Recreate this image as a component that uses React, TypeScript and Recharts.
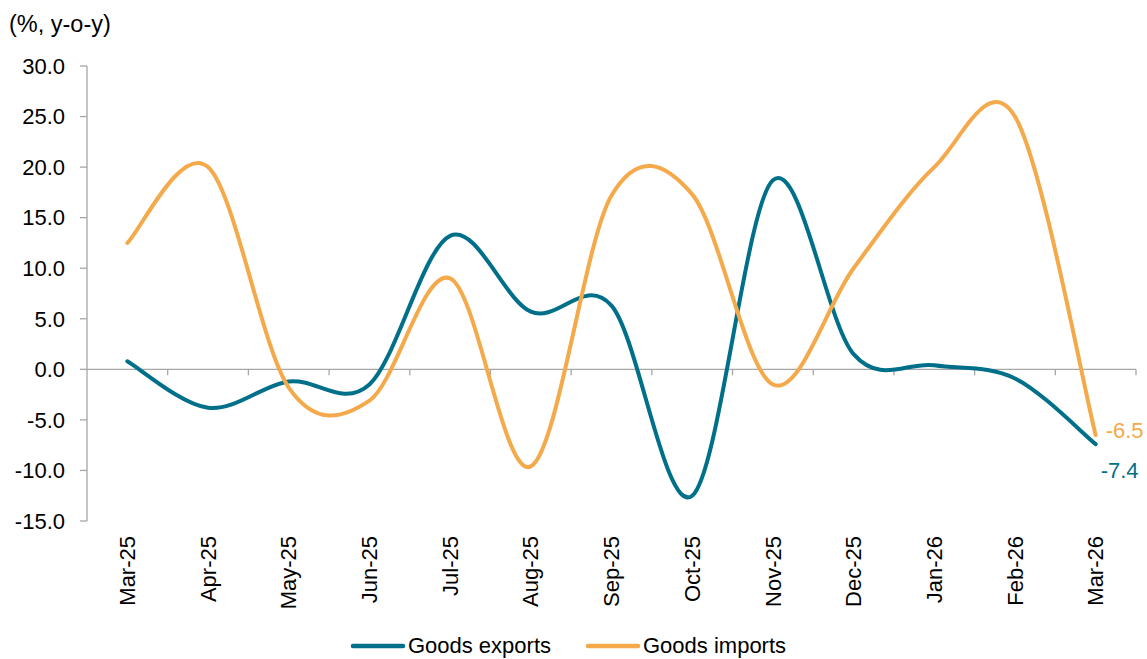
import { LineChart, Line, XAxis, YAxis, ReferenceLine, Legend, LabelList } from 'recharts'

const months = ['Mar-25', 'Apr-25', 'May-25', 'Jun-25', 'Jul-25', 'Aug-25', 'Sep-25', 'Oct-25', 'Nov-25', 'Dec-25', 'Jan-26', 'Feb-26', 'Mar-26']
const goodsExports = [0.8, -3.8, -1.2, -1.5, 13.2, 5.7, 6.3, -12.5, 18.7, 1.5, 0.4, -0.9, -7.4]
const goodsImports = [12.5, 20.0, -1.8, -3.1, 9.0, -9.6, 17.2, 17.3, -1.5, 10.0, 20.0, 25.0, -6.5]
const yTicks = [-15, -10, -5, 0, 5, 10, 15, 20, 25, 30]

const TEAL = '#00708a'
const ORANGE = '#f4a94b'
const GREY = '#a6a6a6'
const FONT = '"Liberation Sans", Arial, sans-serif'

const data = months.map((m, i) => ({ idx: i, month: m, exp: goodsExports[i], imp: goodsImports[i] }))

// excel-style smoothed line (catmull-rom through the points)
function excelSmooth(context: any) {
  let pts: number[][] = []
  return {
    areaStart() {},
    areaEnd() {},
    lineStart() { pts = [] },
    point(x: number, y: number) { pts.push([+x, +y]) },
    lineEnd() {
      const n = pts.length
      if (!n) return
      context.moveTo(pts[0][0], pts[0][1])
      for (let i = 0; i < n - 1; i++) {
        const p0 = pts[Math.max(i - 1, 0)]
        const p1 = pts[i]
        const p2 = pts[i + 1]
        const p3 = pts[Math.min(i + 2, n - 1)]
        context.bezierCurveTo(
          p1[0] + (p2[0] - p0[0]) / 6, p1[1] + (p2[1] - p0[1]) / 6,
          p2[0] - (p3[0] - p1[0]) / 6, p2[1] - (p3[1] - p1[1]) / 6,
          p2[0], p2[1],
        )
      }
    },
  }
}

function ZeroAxis(props: any) {
  const left = Math.min(props.x1, props.x2)
  const right = Math.max(props.x1, props.x2)
  const y = props.y1
  const step = (right - left) / months.length
  return (
    <g>
      <line x1={left} x2={right} y1={y} y2={y} stroke={GREY} strokeWidth={1.3} />
      {months.map((_, i) => (
        <line key={i} x1={left + step * (i + 1)} x2={left + step * (i + 1)} y1={y} y2={y + 6} stroke={GREY} strokeWidth={1.3} />
      ))}
    </g>
  )
}

function MonthTick(props: any) {
  const { x, y, payload } = props
  return (
    <text x={x} y={y} dy="0.35em" textAnchor="end" transform={`rotate(-90, ${x}, ${y})`} fill="#000" fontSize={22} fontFamily={FONT}>
      {months[payload.value]}
    </text>
  )
}

function endLabel(color: string, dx: number, dy: number) {
  return (props: any) => {
    const { x, y, index, value } = props
    if (index !== months.length - 1) return null
    return (
      <text x={x + dx} y={y + dy} dy="0.35em" fill={color} fontSize={22} fontFamily={FONT}>
        {Number(value).toFixed(1)}
      </text>
    )
  }
}

function LegendContent(props: any) {
  const items = props.payload || []
  return (
    <div style={{ display: 'flex', justifyContent: 'center', gap: 34, fontFamily: FONT, fontSize: 22, lineHeight: '26px', height: 26 }}>
      {items.map((it: any) => (
        <div key={it.value} style={{ display: 'flex', alignItems: 'center' }}>
          <svg width={56} height={10}>
            <line x1={3} x2={53} y1={5} y2={5} stroke={it.color} strokeWidth={4.5} strokeLinecap="round" />
          </svg>
          <span style={{ marginLeft: 2, color: '#000' }}>{it.value}</span>
        </div>
      ))}
    </div>
  )
}

export default function App() {
  return (
    <div style={{ position: 'absolute', left: 0, top: 0, width: 1147, height: 659, background: '#fff' }}>
      <div style={{ position: 'absolute', left: 9, top: 9, fontFamily: FONT, fontSize: 23.5, lineHeight: '30px', color: '#000' }}>
        (%, y-o-y)
      </div>
      <LineChart width={1147} height={659} data={data} margin={{ top: 66, right: 11, left: 0, bottom: 0 }}>
        <XAxis
          dataKey="idx"
          type="number"
          domain={[-0.5, 12.5]}
          ticks={months.map((_, i) => i)}
          interval={0}
          axisLine={false}
          tickLine={false}
          tickSize={0}
          tickMargin={15}
          height={112}
          tick={<MonthTick />}
        />
        <YAxis
          domain={[-15, 30]}
          ticks={yTicks}
          width={87}
          axisLine={{ stroke: GREY, strokeWidth: 1.3 }}
          tickLine={{ stroke: GREY, strokeWidth: 1.3 }}
          tickSize={7}
          tickMargin={15}
          tickFormatter={(v: number) => v.toFixed(1)}
          tick={{ fill: '#000', fontSize: 22, fontFamily: FONT }}
        />
        <ReferenceLine y={0} shape={<ZeroAxis />} />
        <Legend verticalAlign="bottom" content={<LegendContent />} />
        <Line
          dataKey="exp"
          name="Goods exports"
          stroke={TEAL}
          strokeWidth={4}
          strokeLinecap="round"
          dot={false}
          type={excelSmooth as any}
          isAnimationActive={false}
        >
          <LabelList dataKey="exp" content={endLabel(TEAL, 5, 26)} />
        </Line>
        <Line
          dataKey="imp"
          name="Goods imports"
          stroke={ORANGE}
          strokeWidth={4}
          strokeLinecap="round"
          dot={false}
          type={excelSmooth as any}
          isAnimationActive={false}
        >
          <LabelList dataKey="imp" content={endLabel(ORANGE, 10, -5)} />
        </Line>
      </LineChart>
    </div>
  )
}
